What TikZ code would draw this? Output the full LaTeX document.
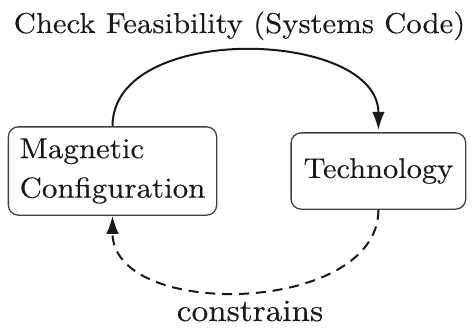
\documentclass[tikz,border=0pt]{standalone}
\usepackage{fontspec}
\setmainfont{Latin Modern Roman}[FakeStretch=1.07,FakeBold=0.3]
\usetikzlibrary{arrows.meta}
\begin{document}
\begin{tikzpicture}[x=0.35pt,y=-0.35pt,
  txt/.style={text=black!90, inner sep=0pt},
  box/.style={draw=black!75, line width=0.45pt, rounded corners=3.5pt, inner sep=0pt},
  link/.style={line width=0.7pt, black!90, -{Latex[length=6.3pt,width=4.4pt]}},
  dlink/.style={link, dash pattern=on 3.5pt off 2.4pt}]
\useasboundingbox (0,0) rectangle (473,329);
\node[txt, anchor=base, font=\fontsize{10.05}{11}\selectfont] (title) at (239.5,33) {Check Feasibility (Systems Code)};
\node[box, txt, minimum width=72.9pt, minimum height=30.9pt, align=left,
      font=\fontsize{10.12}{13.8}\selectfont] (mag) at (112.5,171) {Magnetic\\Configuration};
\node[box, txt, minimum width=61.1pt, minimum height=26.7pt,
      font=\fontsize{9.95}{11}\selectfont] (tech) at (378.4,171) {Technology};
\node[txt, anchor=base, font=\fontsize{10.87}{12}\selectfont] (cons) at (250,321) {constrains};
\draw[link, shorten >=0.8pt] (mag.north) .. controls +(0,-105) and +(0,-103) .. (tech.north);
\draw[dlink] (tech.south) .. controls +(0,105) and +(0,105) .. (mag.south);
\end{tikzpicture}
\end{document}
